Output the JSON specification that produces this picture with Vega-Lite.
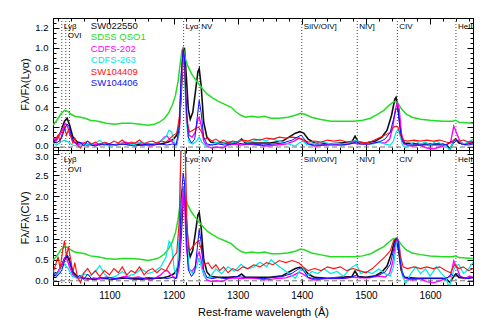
{
"$schema":"https://vega.github.io/schema/vega-lite/v6.json",
"padding":{"left":19,"top":17,"right":16,"bottom":5},
"config":{"view":{"stroke":"#000","strokeWidth":1},"axis":{"labelFont":"Liberation Sans","titleFont":"Liberation Sans","labelColor":"#000","titleColor":"#000","tickColor":"#000","domainColor":"#000","grid":false}},
"datasets":{
"lines":[{"w":1025.7,"t":"Lyβ","r":1},{"w":1031.9,"t":"OVI","r":2},{"w":1037.6,"t":"","r":0},{"w":1215.7,"t":"Lyα","r":1},{"w":1240.1,"t":"NV","r":1},{"w":1400,"t":"SiIV/OIV]","r":1},{"w":1486.5,"t":"NIV]","r":1},{"w":1549,"t":"CIV","r":1},{"w":1640.4,"t":"HeII","r":1}],
"spec":[
{"s":"SW022550","w":1012,"a":0.05,"b":0.10},{"s":"SW022550","w":1018,"a":0.08,"b":0.16},{"s":"SW022550","w":1024,"a":0.15,"b":0.31},{"s":"SW022550","w":1030,"a":0.26,"b":0.53},{"s":"SW022550","w":1034,"a":0.29,"b":0.59},{"s":"SW022550","w":1038,"a":0.22,"b":0.45},{"s":"SW022550","w":1043,"a":0.10,"b":0.21},{"s":"SW022550","w":1050,"a":0.05,"b":0.10},{"s":"SW022550","w":1060,"a":0.03,"b":0.06},{"s":"SW022550","w":1075,"a":0.02,"b":0.04},{"s":"SW022550","w":1090,"a":0.03,"b":0.06},{"s":"SW022550","w":1105,"a":0.02,"b":0.04},{"s":"SW022550","w":1120,"a":0.03,"b":0.06},{"s":"SW022550","w":1135,"a":0.03,"b":0.06},{"s":"SW022550","w":1150,"a":0.02,"b":0.04},{"s":"SW022550","w":1165,"a":0.03,"b":0.06},{"s":"SW022550","w":1180,"a":0.03,"b":0.06},{"s":"SW022550","w":1192,"a":0.05,"b":0.10},{"s":"SW022550","w":1200,"a":0.08,"b":0.16},{"s":"SW022550","w":1205,"a":0.12,"b":0.25},{"s":"SW022550","w":1209,"a":0.22,"b":0.45},{"s":"SW022550","w":1212,"a":0.55,"b":1.13},{"s":"SW022550","w":1215,"a":0.95,"b":1.95},{"s":"SW022550","w":1217,"a":1.0,"b":2.05},{"s":"SW022550","w":1220,"a":0.7,"b":1.44},{"s":"SW022550","w":1223,"a":0.38,"b":0.78},{"s":"SW022550","w":1226,"a":0.28,"b":0.57},{"s":"SW022550","w":1230,"a":0.35,"b":0.72},{"s":"SW022550","w":1234,"a":0.55,"b":1.13},{"s":"SW022550","w":1238,"a":0.76,"b":1.56},{"s":"SW022550","w":1240,"a":0.79,"b":1.62},{"s":"SW022550","w":1243,"a":0.62,"b":1.27},{"s":"SW022550","w":1247,"a":0.25,"b":0.51},{"s":"SW022550","w":1252,"a":0.1,"b":0.21},{"s":"SW022550","w":1258,"a":0.05,"b":0.10},{"s":"SW022550","w":1270,"a":0.04,"b":0.08},{"s":"SW022550","w":1285,"a":0.04,"b":0.08},{"s":"SW022550","w":1300,"a":0.05,"b":0.10},{"s":"SW022550","w":1306,"a":0.08,"b":0.16},{"s":"SW022550","w":1312,"a":0.04,"b":0.08},{"s":"SW022550","w":1330,"a":0.04,"b":0.08},{"s":"SW022550","w":1350,"a":0.04,"b":0.08},{"s":"SW022550","w":1370,"a":0.06,"b":0.12},{"s":"SW022550","w":1380,"a":0.1,"b":0.21},{"s":"SW022550","w":1390,"a":0.14,"b":0.29},{"s":"SW022550","w":1397,"a":0.155,"b":0.32},{"s":"SW022550","w":1403,"a":0.14,"b":0.29},{"s":"SW022550","w":1410,"a":0.08,"b":0.16},{"s":"SW022550","w":1420,"a":0.04,"b":0.08},{"s":"SW022550","w":1440,"a":0.03,"b":0.06},{"s":"SW022550","w":1460,"a":0.04,"b":0.08},{"s":"SW022550","w":1478,"a":0.05,"b":0.10},{"s":"SW022550","w":1483,"a":0.11,"b":0.23},{"s":"SW022550","w":1488,"a":0.05,"b":0.10},{"s":"SW022550","w":1500,"a":0.04,"b":0.08},{"s":"SW022550","w":1515,"a":0.06,"b":0.12},{"s":"SW022550","w":1525,"a":0.1,"b":0.21},{"s":"SW022550","w":1533,"a":0.17,"b":0.35},{"s":"SW022550","w":1540,"a":0.32,"b":0.66},{"s":"SW022550","w":1545,"a":0.48,"b":0.98},{"s":"SW022550","w":1547,"a":0.5,"b":1.0},{"s":"SW022550","w":1551,"a":0.35,"b":0.72},{"s":"SW022550","w":1555,"a":0.12,"b":0.25},{"s":"SW022550","w":1560,"a":0.04,"b":0.08},{"s":"SW022550","w":1580,"a":0.03,"b":0.06},{"s":"SW022550","w":1600,"a":0.03,"b":0.06},{"s":"SW022550","w":1620,"a":0.03,"b":0.06},{"s":"SW022550","w":1627,"a":0.01,"b":0.02},{"s":"SW022550","w":1631,"a":-0.02,"b":-0.04},{"s":"SW022550","w":1635,"a":0.03,"b":0.06},{"s":"SW022550","w":1640,"a":0.08,"b":0.16},{"s":"SW022550","w":1645,"a":0.04,"b":0.08},{"s":"SW022550","w":1655,"a":0.03,"b":0.06},{"s":"SW022550","w":1667,"a":0.04,"b":0.08},
{"s":"SDSS QSO1","w":1012,"a":0.22,"b":0.48},{"s":"SDSS QSO1","w":1018,"a":0.27,"b":0.59},{"s":"SDSS QSO1","w":1024,"a":0.33,"b":0.73},{"s":"SDSS QSO1","w":1030,"a":0.37,"b":0.81},{"s":"SDSS QSO1","w":1035,"a":0.36,"b":0.79},{"s":"SDSS QSO1","w":1040,"a":0.33,"b":0.73},{"s":"SDSS QSO1","w":1046,"a":0.31,"b":0.68},{"s":"SDSS QSO1","w":1055,"a":0.30,"b":0.66},{"s":"SDSS QSO1","w":1062,"a":0.29,"b":0.64},{"s":"SDSS QSO1","w":1070,"a":0.27,"b":0.59},{"s":"SDSS QSO1","w":1082,"a":0.26,"b":0.57},{"s":"SDSS QSO1","w":1095,"a":0.24,"b":0.53},{"s":"SDSS QSO1","w":1108,"a":0.23,"b":0.51},{"s":"SDSS QSO1","w":1120,"a":0.24,"b":0.53},{"s":"SDSS QSO1","w":1134,"a":0.24,"b":0.53},{"s":"SDSS QSO1","w":1148,"a":0.23,"b":0.51},{"s":"SDSS QSO1","w":1160,"a":0.22,"b":0.48},{"s":"SDSS QSO1","w":1170,"a":0.23,"b":0.51},{"s":"SDSS QSO1","w":1178,"a":0.25,"b":0.55},{"s":"SDSS QSO1","w":1186,"a":0.29,"b":0.64},{"s":"SDSS QSO1","w":1192,"a":0.34,"b":0.75},{"s":"SDSS QSO1","w":1198,"a":0.42,"b":0.92},{"s":"SDSS QSO1","w":1203,"a":0.52,"b":1.14},{"s":"SDSS QSO1","w":1207,"a":0.66,"b":1.45},{"s":"SDSS QSO1","w":1210,"a":0.82,"b":1.80},{"s":"SDSS QSO1","w":1213,"a":0.97,"b":2.13},{"s":"SDSS QSO1","w":1215,"a":1.0,"b":2.20},{"s":"SDSS QSO1","w":1218,"a":0.9,"b":1.98},{"s":"SDSS QSO1","w":1222,"a":0.82,"b":1.80},{"s":"SDSS QSO1","w":1228,"a":0.74,"b":1.63},{"s":"SDSS QSO1","w":1233,"a":0.69,"b":1.52},{"s":"SDSS QSO1","w":1240,"a":0.63,"b":1.39},{"s":"SDSS QSO1","w":1246,"a":0.58,"b":1.28},{"s":"SDSS QSO1","w":1253,"a":0.53,"b":1.17},{"s":"SDSS QSO1","w":1262,"a":0.49,"b":1.08},{"s":"SDSS QSO1","w":1270,"a":0.46,"b":1.01},{"s":"SDSS QSO1","w":1280,"a":0.43,"b":0.95},{"s":"SDSS QSO1","w":1290,"a":0.40,"b":0.88},{"s":"SDSS QSO1","w":1298,"a":0.35,"b":0.77},{"s":"SDSS QSO1","w":1305,"a":0.32,"b":0.70},{"s":"SDSS QSO1","w":1312,"a":0.30,"b":0.66},{"s":"SDSS QSO1","w":1322,"a":0.31,"b":0.68},{"s":"SDSS QSO1","w":1332,"a":0.30,"b":0.66},{"s":"SDSS QSO1","w":1342,"a":0.31,"b":0.68},{"s":"SDSS QSO1","w":1352,"a":0.29,"b":0.64},{"s":"SDSS QSO1","w":1365,"a":0.29,"b":0.64},{"s":"SDSS QSO1","w":1378,"a":0.30,"b":0.66},{"s":"SDSS QSO1","w":1390,"a":0.32,"b":0.70},{"s":"SDSS QSO1","w":1398,"a":0.34,"b":0.75},{"s":"SDSS QSO1","w":1405,"a":0.33,"b":0.73},{"s":"SDSS QSO1","w":1415,"a":0.30,"b":0.66},{"s":"SDSS QSO1","w":1428,"a":0.28,"b":0.62},{"s":"SDSS QSO1","w":1445,"a":0.26,"b":0.57},{"s":"SDSS QSO1","w":1465,"a":0.26,"b":0.57},{"s":"SDSS QSO1","w":1482,"a":0.26,"b":0.57},{"s":"SDSS QSO1","w":1495,"a":0.27,"b":0.59},{"s":"SDSS QSO1","w":1507,"a":0.29,"b":0.64},{"s":"SDSS QSO1","w":1518,"a":0.33,"b":0.73},{"s":"SDSS QSO1","w":1528,"a":0.37,"b":0.81},{"s":"SDSS QSO1","w":1536,"a":0.42,"b":0.92},{"s":"SDSS QSO1","w":1542,"a":0.45,"b":0.99},{"s":"SDSS QSO1","w":1546,"a":0.46,"b":1.0},{"s":"SDSS QSO1","w":1550,"a":0.44,"b":0.97},{"s":"SDSS QSO1","w":1556,"a":0.38,"b":0.84},{"s":"SDSS QSO1","w":1563,"a":0.33,"b":0.73},{"s":"SDSS QSO1","w":1572,"a":0.30,"b":0.66},{"s":"SDSS QSO1","w":1585,"a":0.28,"b":0.62},{"s":"SDSS QSO1","w":1600,"a":0.27,"b":0.59},{"s":"SDSS QSO1","w":1620,"a":0.26,"b":0.57},{"s":"SDSS QSO1","w":1635,"a":0.26,"b":0.57},{"s":"SDSS QSO1","w":1640,"a":0.27,"b":0.59},{"s":"SDSS QSO1","w":1645,"a":0.25,"b":0.55},{"s":"SDSS QSO1","w":1667,"a":0.24,"b":0.53},
{"s":"CDFS-202","w":1012,"a":0.10,"b":0.23},{"s":"CDFS-202","w":1017,"a":0.06,"b":0.14},{"s":"CDFS-202","w":1022,"a":0.12,"b":0.27},{"s":"CDFS-202","w":1027,"a":0.18,"b":0.41},{"s":"CDFS-202","w":1031,"a":0.24,"b":0.54},{"s":"CDFS-202","w":1034,"a":0.22,"b":0.50},{"s":"CDFS-202","w":1038,"a":0.14,"b":0.32},{"s":"CDFS-202","w":1043,"a":0.06,"b":0.14},{"s":"CDFS-202","w":1050,"a":0.02,"b":0.05},{"s":"CDFS-202","w":1058,"a":0.04,"b":0.09},{"s":"CDFS-202","w":1066,"a":0.01,"b":0.02},{"s":"CDFS-202","w":1075,"a":0.03,"b":0.07},{"s":"CDFS-202","w":1085,"a":0.02,"b":0.05},{"s":"CDFS-202","w":1095,"a":0.04,"b":0.09},{"s":"CDFS-202","w":1105,"a":0.02,"b":0.05},{"s":"CDFS-202","w":1115,"a":0.03,"b":0.07},{"s":"CDFS-202","w":1125,"a":0.05,"b":0.11},{"s":"CDFS-202","w":1135,"a":0.03,"b":0.07},{"s":"CDFS-202","w":1145,"a":0.04,"b":0.09},{"s":"CDFS-202","w":1155,"a":0.02,"b":0.05},{"s":"CDFS-202","w":1165,"a":0.01,"b":0.02},{"s":"CDFS-202","w":1172,"a":0.03,"b":0.07},{"s":"CDFS-202","w":1180,"a":0.06,"b":0.14},{"s":"CDFS-202","w":1186,"a":0.10,"b":0.23},{"s":"CDFS-202","w":1190,"a":0.11,"b":0.25},{"s":"CDFS-202","w":1195,"a":0.07,"b":0.16},{"s":"CDFS-202","w":1200,"a":0.04,"b":0.09},{"s":"CDFS-202","w":1205,"a":0.03,"b":0.07},{"s":"CDFS-202","w":1209,"a":0.15,"b":0.34},{"s":"CDFS-202","w":1212,"a":0.6,"b":1.35},{"s":"CDFS-202","w":1215,"a":0.98,"b":2.21},{"s":"CDFS-202","w":1217,"a":0.85,"b":1.91},{"s":"CDFS-202","w":1220,"a":0.35,"b":0.79},{"s":"CDFS-202","w":1224,"a":0.12,"b":0.27},{"s":"CDFS-202","w":1229,"a":0.10,"b":0.23},{"s":"CDFS-202","w":1234,"a":0.15,"b":0.34},{"s":"CDFS-202","w":1238,"a":0.28,"b":0.63},{"s":"CDFS-202","w":1240,"a":0.30,"b":0.68},{"s":"CDFS-202","w":1243,"a":0.22,"b":0.50},{"s":"CDFS-202","w":1247,"a":0.06,"b":0.14},{"s":"CDFS-202","w":1252,"a":0.01,"b":0.02},{"s":"CDFS-202","w":1260,"a":-0.01,"b":-0.02},{"s":"CDFS-202","w":1268,"a":0.0,"b":0.0},{"s":"CDFS-202","w":1276,"a":-0.01,"b":-0.02},{"s":"CDFS-202","w":1285,"a":0.02,"b":0.05},{"s":"CDFS-202","w":1295,"a":0.03,"b":0.07},{"s":"CDFS-202","w":1305,"a":0.02,"b":0.05},{"s":"CDFS-202","w":1318,"a":0.03,"b":0.07},{"s":"CDFS-202","w":1330,"a":0.02,"b":0.05},{"s":"CDFS-202","w":1345,"a":0.01,"b":0.02},{"s":"CDFS-202","w":1360,"a":0.02,"b":0.05},{"s":"CDFS-202","w":1375,"a":0.03,"b":0.07},{"s":"CDFS-202","w":1388,"a":0.06,"b":0.14},{"s":"CDFS-202","w":1396,"a":0.09,"b":0.20},{"s":"CDFS-202","w":1402,"a":0.07,"b":0.16},{"s":"CDFS-202","w":1410,"a":0.03,"b":0.07},{"s":"CDFS-202","w":1420,"a":0.01,"b":0.02},{"s":"CDFS-202","w":1435,"a":0.02,"b":0.05},{"s":"CDFS-202","w":1450,"a":0.03,"b":0.07},{"s":"CDFS-202","w":1465,"a":0.02,"b":0.05},{"s":"CDFS-202","w":1480,"a":0.04,"b":0.09},{"s":"CDFS-202","w":1490,"a":0.03,"b":0.07},{"s":"CDFS-202","w":1505,"a":0.03,"b":0.07},{"s":"CDFS-202","w":1520,"a":0.05,"b":0.11},{"s":"CDFS-202","w":1530,"a":0.04,"b":0.09},{"s":"CDFS-202","w":1537,"a":0.08,"b":0.18},{"s":"CDFS-202","w":1542,"a":0.2,"b":0.45},{"s":"CDFS-202","w":1546,"a":0.38,"b":0.86},{"s":"CDFS-202","w":1549,"a":0.45,"b":1.01},{"s":"CDFS-202","w":1552,"a":0.38,"b":0.86},{"s":"CDFS-202","w":1555,"a":0.15,"b":0.34},{"s":"CDFS-202","w":1559,"a":0.03,"b":0.07},{"s":"CDFS-202","w":1570,"a":0.01,"b":0.02},{"s":"CDFS-202","w":1585,"a":0.02,"b":0.05},{"s":"CDFS-202","w":1595,"a":-0.01,"b":-0.02},{"s":"CDFS-202","w":1605,"a":-0.02,"b":-0.05},{"s":"CDFS-202","w":1615,"a":0.0,"b":0.0},{"s":"CDFS-202","w":1625,"a":0.02,"b":0.05},{"s":"CDFS-202","w":1632,"a":0.05,"b":0.11},{"s":"CDFS-202","w":1637,"a":0.21,"b":0.47},{"s":"CDFS-202","w":1641,"a":0.15,"b":0.34},{"s":"CDFS-202","w":1647,"a":0.05,"b":0.11},{"s":"CDFS-202","w":1655,"a":0.02,"b":0.05},{"s":"CDFS-202","w":1662,"a":0.05,"b":0.11},{"s":"CDFS-202","w":1667,"a":0.03,"b":0.07},
{"s":"CDFS-263","w":1012,"a":0.04,"b":0.22},{"s":"CDFS-263","w":1018,"a":0.02,"b":0.11},{"s":"CDFS-263","w":1024,"a":0.05,"b":0.28},{"s":"CDFS-263","w":1030,"a":0.07,"b":0.39},{"s":"CDFS-263","w":1036,"a":0.05,"b":0.28},{"s":"CDFS-263","w":1042,"a":0.02,"b":0.11},{"s":"CDFS-263","w":1050,"a":0.01,"b":0.06},{"s":"CDFS-263","w":1060,"a":0.03,"b":0.17},{"s":"CDFS-263","w":1070,"a":0.02,"b":0.11},{"s":"CDFS-263","w":1078,"a":0.04,"b":0.22},{"s":"CDFS-263","w":1085,"a":0.065,"b":0.36},{"s":"CDFS-263","w":1092,"a":0.03,"b":0.17},{"s":"CDFS-263","w":1100,"a":0.01,"b":0.06},{"s":"CDFS-263","w":1110,"a":0.02,"b":0.11},{"s":"CDFS-263","w":1120,"a":0.04,"b":0.22},{"s":"CDFS-263","w":1130,"a":0.02,"b":0.11},{"s":"CDFS-263","w":1140,"a":0.03,"b":0.17},{"s":"CDFS-263","w":1150,"a":0.05,"b":0.28},{"s":"CDFS-263","w":1160,"a":0.03,"b":0.17},{"s":"CDFS-263","w":1170,"a":0.04,"b":0.22},{"s":"CDFS-263","w":1180,"a":0.06,"b":0.33},{"s":"CDFS-263","w":1188,"a":0.10,"b":0.55},{"s":"CDFS-263","w":1193,"a":0.17,"b":0.94},{"s":"CDFS-263","w":1197,"a":0.15,"b":0.83},{"s":"CDFS-263","w":1201,"a":0.05,"b":0.28},{"s":"CDFS-263","w":1205,"a":0.02,"b":0.11},{"s":"CDFS-263","w":1209,"a":0.2,"b":1.10},{"s":"CDFS-263","w":1212,"a":0.7,"b":3.85},{"s":"CDFS-263","w":1215,"a":1.0,"b":5.5},{"s":"CDFS-263","w":1217,"a":0.8,"b":4.4},{"s":"CDFS-263","w":1220,"a":0.25,"b":1.38},{"s":"CDFS-263","w":1224,"a":0.05,"b":0.28},{"s":"CDFS-263","w":1230,"a":0.03,"b":0.17},{"s":"CDFS-263","w":1236,"a":0.06,"b":0.33},{"s":"CDFS-263","w":1240,"a":0.10,"b":0.55},{"s":"CDFS-263","w":1244,"a":0.05,"b":0.28},{"s":"CDFS-263","w":1250,"a":0.01,"b":0.06},{"s":"CDFS-263","w":1258,"a":0.02,"b":0.11},{"s":"CDFS-263","w":1266,"a":0.05,"b":0.28},{"s":"CDFS-263","w":1275,"a":0.03,"b":0.17},{"s":"CDFS-263","w":1285,"a":0.06,"b":0.33},{"s":"CDFS-263","w":1295,"a":0.04,"b":0.22},{"s":"CDFS-263","w":1305,"a":0.07,"b":0.39},{"s":"CDFS-263","w":1315,"a":0.05,"b":0.28},{"s":"CDFS-263","w":1325,"a":0.06,"b":0.33},{"s":"CDFS-263","w":1335,"a":0.08,"b":0.44},{"s":"CDFS-263","w":1345,"a":0.06,"b":0.33},{"s":"CDFS-263","w":1352,"a":0.09,"b":0.50},{"s":"CDFS-263","w":1360,"a":0.07,"b":0.39},{"s":"CDFS-263","w":1370,"a":0.05,"b":0.28},{"s":"CDFS-263","w":1380,"a":0.03,"b":0.17},{"s":"CDFS-263","w":1390,"a":0.01,"b":0.06},{"s":"CDFS-263","w":1396,"a":0.04,"b":0.22},{"s":"CDFS-263","w":1402,"a":0.06,"b":0.33},{"s":"CDFS-263","w":1408,"a":0.02,"b":0.11},{"s":"CDFS-263","w":1416,"a":0.04,"b":0.22},{"s":"CDFS-263","w":1425,"a":0.03,"b":0.17},{"s":"CDFS-263","w":1435,"a":0.05,"b":0.28},{"s":"CDFS-263","w":1445,"a":0.03,"b":0.17},{"s":"CDFS-263","w":1455,"a":0.04,"b":0.22},{"s":"CDFS-263","w":1465,"a":0.02,"b":0.11},{"s":"CDFS-263","w":1475,"a":0.05,"b":0.28},{"s":"CDFS-263","w":1485,"a":0.07,"b":0.39},{"s":"CDFS-263","w":1492,"a":0.03,"b":0.17},{"s":"CDFS-263","w":1500,"a":0.04,"b":0.22},{"s":"CDFS-263","w":1510,"a":0.03,"b":0.17},{"s":"CDFS-263","w":1520,"a":0.05,"b":0.28},{"s":"CDFS-263","w":1530,"a":0.03,"b":0.17},{"s":"CDFS-263","w":1538,"a":0.02,"b":0.11},{"s":"CDFS-263","w":1543,"a":0.06,"b":0.33},{"s":"CDFS-263","w":1547,"a":0.15,"b":0.83},{"s":"CDFS-263","w":1550,"a":0.18,"b":0.99},{"s":"CDFS-263","w":1553,"a":0.12,"b":0.66},{"s":"CDFS-263","w":1557,"a":0.02,"b":0.11},{"s":"CDFS-263","w":1562,"a":-0.01,"b":-0.06},{"s":"CDFS-263","w":1570,"a":0.03,"b":0.17},{"s":"CDFS-263","w":1578,"a":0.06,"b":0.33},{"s":"CDFS-263","w":1585,"a":0.03,"b":0.17},{"s":"CDFS-263","w":1593,"a":0.05,"b":0.28},{"s":"CDFS-263","w":1600,"a":0.02,"b":0.11},{"s":"CDFS-263","w":1610,"a":0.06,"b":0.33},{"s":"CDFS-263","w":1618,"a":0.03,"b":0.17},{"s":"CDFS-263","w":1625,"a":0.01,"b":0.06},{"s":"CDFS-263","w":1630,"a":-0.03,"b":-0.17},{"s":"CDFS-263","w":1634,"a":0.02,"b":0.11},{"s":"CDFS-263","w":1639,"a":0.06,"b":0.33},{"s":"CDFS-263","w":1645,"a":0.07,"b":0.39},{"s":"CDFS-263","w":1652,"a":0.03,"b":0.17},{"s":"CDFS-263","w":1660,"a":0.05,"b":0.28},{"s":"CDFS-263","w":1667,"a":0.08,"b":0.44},
{"s":"SW104409","w":1012,"a":0.04,"b":0.19},{"s":"SW104409","w":1016,"a":0.08,"b":0.38},{"s":"SW104409","w":1020,"a":0.12,"b":0.57},{"s":"SW104409","w":1023,"a":0.06,"b":0.29},{"s":"SW104409","w":1027,"a":0.15,"b":0.71},{"s":"SW104409","w":1030,"a":0.20,"b":0.95},{"s":"SW104409","w":1033,"a":0.12,"b":0.57},{"s":"SW104409","w":1036,"a":0.17,"b":0.81},{"s":"SW104409","w":1040,"a":0.10,"b":0.48},{"s":"SW104409","w":1043,"a":0.04,"b":0.19},{"s":"SW104409","w":1046,"a":0.09,"b":0.43},{"s":"SW104409","w":1050,"a":0.02,"b":0.10},{"s":"SW104409","w":1055,"a":-0.01,"b":-0.05},{"s":"SW104409","w":1060,"a":0.04,"b":0.19},{"s":"SW104409","w":1066,"a":0.06,"b":0.29},{"s":"SW104409","w":1072,"a":0.03,"b":0.14},{"s":"SW104409","w":1078,"a":0.05,"b":0.24},{"s":"SW104409","w":1085,"a":0.02,"b":0.10},{"s":"SW104409","w":1092,"a":0.05,"b":0.24},{"s":"SW104409","w":1100,"a":0.03,"b":0.14},{"s":"SW104409","w":1107,"a":0.06,"b":0.29},{"s":"SW104409","w":1114,"a":0.04,"b":0.19},{"s":"SW104409","w":1120,"a":0.07,"b":0.33},{"s":"SW104409","w":1127,"a":0.03,"b":0.14},{"s":"SW104409","w":1134,"a":0.05,"b":0.24},{"s":"SW104409","w":1140,"a":0.04,"b":0.19},{"s":"SW104409","w":1147,"a":0.07,"b":0.33},{"s":"SW104409","w":1154,"a":0.03,"b":0.14},{"s":"SW104409","w":1160,"a":0.05,"b":0.24},{"s":"SW104409","w":1167,"a":0.06,"b":0.29},{"s":"SW104409","w":1174,"a":0.04,"b":0.19},{"s":"SW104409","w":1181,"a":0.06,"b":0.29},{"s":"SW104409","w":1188,"a":0.05,"b":0.24},{"s":"SW104409","w":1195,"a":0.09,"b":0.43},{"s":"SW104409","w":1200,"a":0.12,"b":0.57},{"s":"SW104409","w":1205,"a":0.14,"b":0.67},{"s":"SW104409","w":1209,"a":0.3,"b":1.43},{"s":"SW104409","w":1212,"a":0.7,"b":3.33},{"s":"SW104409","w":1215,"a":1.0,"b":4.75},{"s":"SW104409","w":1218,"a":0.7,"b":3.33},{"s":"SW104409","w":1221,"a":0.25,"b":1.19},{"s":"SW104409","w":1225,"a":0.15,"b":0.71},{"s":"SW104409","w":1230,"a":0.17,"b":0.81},{"s":"SW104409","w":1235,"a":0.19,"b":0.90},{"s":"SW104409","w":1239,"a":0.20,"b":0.95},{"s":"SW104409","w":1243,"a":0.16,"b":0.76},{"s":"SW104409","w":1248,"a":0.08,"b":0.38},{"s":"SW104409","w":1254,"a":0.09,"b":0.43},{"s":"SW104409","w":1260,"a":0.06,"b":0.29},{"s":"SW104409","w":1266,"a":0.08,"b":0.38},{"s":"SW104409","w":1272,"a":0.05,"b":0.24},{"s":"SW104409","w":1278,"a":0.07,"b":0.33},{"s":"SW104409","w":1285,"a":0.04,"b":0.19},{"s":"SW104409","w":1292,"a":0.06,"b":0.29},{"s":"SW104409","w":1300,"a":0.05,"b":0.24},{"s":"SW104409","w":1308,"a":0.07,"b":0.33},{"s":"SW104409","w":1316,"a":0.06,"b":0.29},{"s":"SW104409","w":1325,"a":0.08,"b":0.38},{"s":"SW104409","w":1335,"a":0.07,"b":0.33},{"s":"SW104409","w":1345,"a":0.09,"b":0.43},{"s":"SW104409","w":1355,"a":0.08,"b":0.38},{"s":"SW104409","w":1365,"a":0.10,"b":0.48},{"s":"SW104409","w":1375,"a":0.09,"b":0.43},{"s":"SW104409","w":1385,"a":0.10,"b":0.48},{"s":"SW104409","w":1395,"a":0.09,"b":0.43},{"s":"SW104409","w":1402,"a":0.07,"b":0.33},{"s":"SW104409","w":1410,"a":0.05,"b":0.24},{"s":"SW104409","w":1420,"a":0.06,"b":0.29},{"s":"SW104409","w":1430,"a":0.05,"b":0.24},{"s":"SW104409","w":1440,"a":0.07,"b":0.33},{"s":"SW104409","w":1450,"a":0.06,"b":0.29},{"s":"SW104409","w":1460,"a":0.07,"b":0.33},{"s":"SW104409","w":1470,"a":0.05,"b":0.24},{"s":"SW104409","w":1480,"a":0.06,"b":0.29},{"s":"SW104409","w":1490,"a":0.05,"b":0.24},{"s":"SW104409","w":1500,"a":0.04,"b":0.19},{"s":"SW104409","w":1510,"a":0.06,"b":0.29},{"s":"SW104409","w":1520,"a":0.09,"b":0.43},{"s":"SW104409","w":1530,"a":0.12,"b":0.57},{"s":"SW104409","w":1538,"a":0.15,"b":0.71},{"s":"SW104409","w":1543,"a":0.20,"b":0.95},{"s":"SW104409","w":1547,"a":0.21,"b":1.0},{"s":"SW104409","w":1550,"a":0.20,"b":0.95},{"s":"SW104409","w":1554,"a":0.12,"b":0.57},{"s":"SW104409","w":1558,"a":0.07,"b":0.33},{"s":"SW104409","w":1565,"a":0.06,"b":0.29},{"s":"SW104409","w":1575,"a":0.07,"b":0.33},{"s":"SW104409","w":1585,"a":0.06,"b":0.29},{"s":"SW104409","w":1595,"a":0.07,"b":0.33},{"s":"SW104409","w":1605,"a":0.06,"b":0.29},{"s":"SW104409","w":1615,"a":0.07,"b":0.33},{"s":"SW104409","w":1625,"a":0.05,"b":0.24},{"s":"SW104409","w":1632,"a":0.04,"b":0.19},{"s":"SW104409","w":1638,"a":0.08,"b":0.38},{"s":"SW104409","w":1645,"a":0.06,"b":0.29},{"s":"SW104409","w":1652,"a":0.07,"b":0.33},{"s":"SW104409","w":1660,"a":0.05,"b":0.24},{"s":"SW104409","w":1667,"a":0.06,"b":0.29},
{"s":"SW104406","w":1012,"a":0.08,"b":0.21},{"s":"SW104406","w":1017,"a":0.04,"b":0.10},{"s":"SW104406","w":1022,"a":0.06,"b":0.16},{"s":"SW104406","w":1026,"a":0.10,"b":0.26},{"s":"SW104406","w":1030,"a":0.18,"b":0.47},{"s":"SW104406","w":1034,"a":0.23,"b":0.60},{"s":"SW104406","w":1037,"a":0.21,"b":0.55},{"s":"SW104406","w":1040,"a":0.13,"b":0.34},{"s":"SW104406","w":1044,"a":0.06,"b":0.16},{"s":"SW104406","w":1049,"a":0.03,"b":0.08},{"s":"SW104406","w":1054,"a":0.05,"b":0.13},{"s":"SW104406","w":1060,"a":0.01,"b":0.03},{"s":"SW104406","w":1066,"a":0.06,"b":0.16},{"s":"SW104406","w":1072,"a":0.02,"b":0.05},{"s":"SW104406","w":1078,"a":0.01,"b":0.03},{"s":"SW104406","w":1085,"a":0.03,"b":0.08},{"s":"SW104406","w":1092,"a":0.02,"b":0.05},{"s":"SW104406","w":1100,"a":0.03,"b":0.08},{"s":"SW104406","w":1110,"a":0.02,"b":0.05},{"s":"SW104406","w":1120,"a":0.03,"b":0.08},{"s":"SW104406","w":1130,"a":0.02,"b":0.05},{"s":"SW104406","w":1140,"a":0.01,"b":0.03},{"s":"SW104406","w":1150,"a":0.02,"b":0.05},{"s":"SW104406","w":1160,"a":0.03,"b":0.08},{"s":"SW104406","w":1170,"a":0.02,"b":0.05},{"s":"SW104406","w":1180,"a":0.03,"b":0.08},{"s":"SW104406","w":1190,"a":0.02,"b":0.05},{"s":"SW104406","w":1198,"a":0.03,"b":0.08},{"s":"SW104406","w":1204,"a":0.02,"b":0.05},{"s":"SW104406","w":1209,"a":0.2,"b":0.52},{"s":"SW104406","w":1212,"a":0.75,"b":1.95},{"s":"SW104406","w":1215,"a":0.98,"b":2.55},{"s":"SW104406","w":1217,"a":0.9,"b":2.34},{"s":"SW104406","w":1220,"a":0.4,"b":1.04},{"s":"SW104406","w":1223,"a":0.1,"b":0.26},{"s":"SW104406","w":1228,"a":0.04,"b":0.10},{"s":"SW104406","w":1233,"a":0.08,"b":0.21},{"s":"SW104406","w":1237,"a":0.3,"b":0.78},{"s":"SW104406","w":1240,"a":0.47,"b":1.22},{"s":"SW104406","w":1243,"a":0.35,"b":0.91},{"s":"SW104406","w":1247,"a":0.1,"b":0.26},{"s":"SW104406","w":1252,"a":0.03,"b":0.08},{"s":"SW104406","w":1260,"a":0.02,"b":0.05},{"s":"SW104406","w":1270,"a":0.03,"b":0.08},{"s":"SW104406","w":1280,"a":0.02,"b":0.05},{"s":"SW104406","w":1290,"a":0.03,"b":0.08},{"s":"SW104406","w":1300,"a":0.04,"b":0.10},{"s":"SW104406","w":1310,"a":0.03,"b":0.08},{"s":"SW104406","w":1325,"a":0.03,"b":0.08},{"s":"SW104406","w":1340,"a":0.02,"b":0.05},{"s":"SW104406","w":1355,"a":0.03,"b":0.08},{"s":"SW104406","w":1370,"a":0.04,"b":0.10},{"s":"SW104406","w":1385,"a":0.07,"b":0.18},{"s":"SW104406","w":1393,"a":0.10,"b":0.26},{"s":"SW104406","w":1399,"a":0.12,"b":0.31},{"s":"SW104406","w":1404,"a":0.08,"b":0.21},{"s":"SW104406","w":1410,"a":0.03,"b":0.08},{"s":"SW104406","w":1420,"a":0.02,"b":0.05},{"s":"SW104406","w":1440,"a":0.02,"b":0.05},{"s":"SW104406","w":1460,"a":0.02,"b":0.05},{"s":"SW104406","w":1475,"a":0.03,"b":0.08},{"s":"SW104406","w":1485,"a":0.05,"b":0.13},{"s":"SW104406","w":1492,"a":0.03,"b":0.08},{"s":"SW104406","w":1505,"a":0.03,"b":0.08},{"s":"SW104406","w":1520,"a":0.05,"b":0.13},{"s":"SW104406","w":1530,"a":0.08,"b":0.21},{"s":"SW104406","w":1538,"a":0.15,"b":0.39},{"s":"SW104406","w":1543,"a":0.28,"b":0.73},{"s":"SW104406","w":1547,"a":0.385,"b":1.0},{"s":"SW104406","w":1550,"a":0.37,"b":0.96},{"s":"SW104406","w":1553,"a":0.2,"b":0.52},{"s":"SW104406","w":1557,"a":0.05,"b":0.13},{"s":"SW104406","w":1565,"a":0.02,"b":0.05},{"s":"SW104406","w":1580,"a":0.02,"b":0.05},{"s":"SW104406","w":1600,"a":0.02,"b":0.05},{"s":"SW104406","w":1620,"a":0.02,"b":0.05},{"s":"SW104406","w":1628,"a":0.03,"b":0.08},{"s":"SW104406","w":1633,"a":0.06,"b":0.16},{"s":"SW104406","w":1637,"a":0.04,"b":0.10},{"s":"SW104406","w":1642,"a":0.07,"b":0.18},{"s":"SW104406","w":1648,"a":0.03,"b":0.08},{"s":"SW104406","w":1660,"a":0.02,"b":0.05},{"s":"SW104406","w":1667,"a":0.03,"b":0.08}
]},
"vconcat":[
{"width":420,"height":132,
"resolve":{"axis":{"x":"independent","y":"independent"}},
"layer":[
{"data":{"values":[{}]},"mark":{"type":"rule","strokeDash":[5,3],"color":"#777","strokeWidth":1},
"encoding":{"y":{"datum":0,"type":"quantitative","scale":{"domain":[-0.03,1.3],"nice":false,"zero":false},
"axis":{"orient":"left","values":[0,0.05,0.1,0.15,0.2,0.25,0.3,0.35,0.4,0.45,0.5,0.55,0.6,0.65,0.7,0.75,0.8,0.85,0.9,0.95,1.0,1.05,1.1,1.15,1.2,1.25],"labelExpr":"round(datum.value*100) % 20 == 0 ? format(datum.value, '.1f') : ''","labelFontSize":9.5,"labelPadding":11,"labelOffset":{"condition":{"test":"datum.value == 0","value":-2},"value":0},"labelOverlap":false,"labelFlush":false,"title":"Fλ/Fλ(Lyα)","titleFontSize":11,"titleFontWeight":"normal","titlePadding":4,"tickSize":{"condition":{"test":"round(datum.value*100) % 20 == 0","value":-6},"value":-3}}}}},
{"data":{"name":"lines"},"mark":{"type":"rule","strokeDash":[1,2],"color":"#444","strokeWidth":1},
"encoding":{"x":{"field":"w","type":"quantitative","scale":{"domain":[1012,1667],"nice":false,"zero":false},
"axis":{"orient":"bottom","values":[1020,1040,1060,1080,1100,1120,1140,1160,1180,1200,1220,1240,1260,1280,1300,1320,1340,1360,1380,1400,1420,1440,1460,1480,1500,1520,1540,1560,1580,1600,1620,1640,1660],"labels":false,"title":null,"tickSize":{"condition":{"test":"datum.value % 100 == 0","value":-6},"value":-3}}}}},
{"data":{"name":"spec"},"mark":{"type":"line","clip":true},
"encoding":{"x":{"field":"w","type":"quantitative","scale":{"domain":[1012,1667],"nice":false,"zero":false},
"axis":{"orient":"top","values":[1020,1040,1060,1080,1100,1120,1140,1160,1180,1200,1220,1240,1260,1280,1300,1320,1340,1360,1380,1400,1420,1440,1460,1480,1500,1520,1540,1560,1580,1600,1620,1640,1660],"labels":false,"title":null,"tickSize":{"condition":{"test":"datum.value % 100 == 0","value":-6},"value":-3}}},
"y":{"field":"a","type":"quantitative","scale":{"domain":[-0.03,1.3],"nice":false,"zero":false},
"axis":{"orient":"right","values":[0,0.05,0.1,0.15,0.2,0.25,0.3,0.35,0.4,0.45,0.5,0.55,0.6,0.65,0.7,0.75,0.8,0.85,0.9,0.95,1.0,1.05,1.1,1.15,1.2,1.25],"labels":false,"title":null,"tickSize":{"condition":{"test":"round(datum.value*100) % 20 == 0","value":-6},"value":-3}}},
"color":{"field":"s","type":"nominal","scale":{"domain":["SW022550","SDSS QSO1","CDFS-202","CDFS-263","SW104409","SW104406"],"range":["#111111","#22dd22","#ff00ff","#00e8e8","#ff1010","#1010ff"]},"legend":null},
"strokeWidth":{"field":"s","type":"nominal","scale":{"domain":["SW022550","SDSS QSO1","CDFS-202","CDFS-263","SW104409","SW104406"],"range":[1.6,1,1,1,1,1]},"legend":null}}},
{"data":{"name":"lines"},"transform":[{"filter":"datum.r == 1"}],"mark":{"type":"text","align":"left","baseline":"middle","dx":2,"font":"Liberation Sans","fontSize":8,"color":"#000"},
"encoding":{"x":{"field":"w","type":"quantitative","scale":{"domain":[1012,1667],"nice":false,"zero":false},"axis":null},"y":{"datum":1.21,"type":"quantitative","scale":{"domain":[-0.03,1.3],"nice":false,"zero":false},"axis":null},"text":{"field":"t"}}},
{"data":{"name":"lines"},"transform":[{"filter":"datum.r == 2"}],"mark":{"type":"text","align":"left","baseline":"middle","dx":2,"font":"Liberation Sans","fontSize":8,"color":"#000"},
"encoding":{"x":{"field":"w","type":"quantitative","scale":{"domain":[1012,1667],"nice":false,"zero":false},"axis":null},"y":{"datum":1.115,"type":"quantitative","scale":{"domain":[-0.03,1.3],"nice":false,"zero":false},"axis":null},"text":{"field":"t"}}},
{"data":{"values":[{}]},"mark":{"type":"text","align":"left","baseline":"middle","font":"Liberation Sans","fontSize":9.5,"color":"#111111"},"encoding":{"x":{"datum":1071,"type":"quantitative","axis":null},"y":{"datum":1.22,"type":"quantitative","axis":null},"text":{"value":"SW022550"}}},
{"data":{"values":[{}]},"mark":{"type":"text","align":"left","baseline":"middle","font":"Liberation Sans","fontSize":9.5,"color":"#22dd22"},"encoding":{"x":{"datum":1071,"type":"quantitative","axis":null},"y":{"datum":1.105,"type":"quantitative","axis":null},"text":{"value":"SDSS QSO1"}}},
{"data":{"values":[{}]},"mark":{"type":"text","align":"left","baseline":"middle","font":"Liberation Sans","fontSize":9.5,"color":"#ff00ff"},"encoding":{"x":{"datum":1071,"type":"quantitative","axis":null},"y":{"datum":0.99,"type":"quantitative","axis":null},"text":{"value":"CDFS-202"}}},
{"data":{"values":[{}]},"mark":{"type":"text","align":"left","baseline":"middle","font":"Liberation Sans","fontSize":9.5,"color":"#00e8e8"},"encoding":{"x":{"datum":1071,"type":"quantitative","axis":null},"y":{"datum":0.875,"type":"quantitative","axis":null},"text":{"value":"CDFS-263"}}},
{"data":{"values":[{}]},"mark":{"type":"text","align":"left","baseline":"middle","font":"Liberation Sans","fontSize":9.5,"color":"#ff1010"},"encoding":{"x":{"datum":1071,"type":"quantitative","axis":null},"y":{"datum":0.76,"type":"quantitative","axis":null},"text":{"value":"SW104409"}}},
{"data":{"values":[{}]},"mark":{"type":"text","align":"left","baseline":"middle","font":"Liberation Sans","fontSize":9.5,"color":"#1010ff"},"encoding":{"x":{"datum":1071,"type":"quantitative","axis":null},"y":{"datum":0.65,"type":"quantitative","axis":null},"text":{"value":"SW104406"}}}
]},
{"width":420,"height":135,
"resolve":{"axis":{"x":"independent","y":"independent"}},
"layer":[
{"data":{"values":[{}]},"mark":{"type":"rule","strokeDash":[5,3],"color":"#777","strokeWidth":1},
"encoding":{"y":{"datum":0,"type":"quantitative","scale":{"domain":[-0.1,3.1],"nice":false,"zero":false},
"axis":{"orient":"left","values":[0,0.1,0.2,0.3,0.4,0.5,0.6,0.7,0.8,0.9,1.0,1.1,1.2,1.3,1.4,1.5,1.6,1.7,1.8,1.9,2.0,2.1,2.2,2.3,2.4,2.5,2.6,2.7,2.8,2.9,3.0],"labelExpr":"round(datum.value*10) % 5 == 0 ? format(datum.value, '.1f') : ''","labelFontSize":9.5,"labelPadding":11,"labelOffset":{"condition":{"test":"datum.value == 3","value":2},"value":0},"labelOverlap":false,"labelFlush":false,"title":"Fλ/Fλ(CIV)","titleFontSize":11,"titleFontWeight":"normal","titlePadding":4,"tickSize":{"condition":{"test":"round(datum.value*10) % 5 == 0","value":-6},"value":-3}}}}},
{"data":{"name":"lines"},"mark":{"type":"rule","strokeDash":[1,2],"color":"#444","strokeWidth":1},
"encoding":{"x":{"field":"w","type":"quantitative","scale":{"domain":[1012,1667],"nice":false,"zero":false},
"axis":{"orient":"bottom","values":[1020,1040,1060,1080,1100,1120,1140,1160,1180,1200,1220,1240,1260,1280,1300,1320,1340,1360,1380,1400,1420,1440,1460,1480,1500,1520,1540,1560,1580,1600,1620,1640,1660],"labelExpr":"datum.value % 100 == 0 ? '' + datum.value : ''","labelFontSize":10,"labelPadding":11,"labelOverlap":false,"labelFlush":false,"title":"Rest-frame wavelength (Å)","titleFontSize":11,"titleFontWeight":"normal","titlePadding":3,"tickSize":{"condition":{"test":"datum.value % 100 == 0","value":-6},"value":-3}}}}},
{"data":{"name":"spec"},"mark":{"type":"line","clip":true},
"encoding":{"x":{"field":"w","type":"quantitative","scale":{"domain":[1012,1667],"nice":false,"zero":false},
"axis":{"orient":"top","values":[1020,1040,1060,1080,1100,1120,1140,1160,1180,1200,1220,1240,1260,1280,1300,1320,1340,1360,1380,1400,1420,1440,1460,1480,1500,1520,1540,1560,1580,1600,1620,1640,1660],"labels":false,"title":null,"tickSize":{"condition":{"test":"datum.value % 100 == 0","value":-6},"value":-3}}},
"y":{"field":"b","type":"quantitative","scale":{"domain":[-0.1,3.1],"nice":false,"zero":false},
"axis":{"orient":"right","values":[0,0.1,0.2,0.3,0.4,0.5,0.6,0.7,0.8,0.9,1.0,1.1,1.2,1.3,1.4,1.5,1.6,1.7,1.8,1.9,2.0,2.1,2.2,2.3,2.4,2.5,2.6,2.7,2.8,2.9,3.0],"labels":false,"title":null,"tickSize":{"condition":{"test":"round(datum.value*10) % 5 == 0","value":-6},"value":-3}}},
"color":{"field":"s","type":"nominal","scale":{"domain":["SW022550","SDSS QSO1","CDFS-202","CDFS-263","SW104409","SW104406"],"range":["#111111","#22dd22","#ff00ff","#00e8e8","#ff1010","#1010ff"]},"legend":null},
"strokeWidth":{"field":"s","type":"nominal","scale":{"domain":["SW022550","SDSS QSO1","CDFS-202","CDFS-263","SW104409","SW104406"],"range":[1.6,1,1,1,1,1]},"legend":null}}},
{"data":{"name":"lines"},"transform":[{"filter":"datum.r == 1"}],"mark":{"type":"text","align":"left","baseline":"middle","dx":2,"font":"Liberation Sans","fontSize":8,"color":"#000"},
"encoding":{"x":{"field":"w","type":"quantitative","scale":{"domain":[1012,1667],"nice":false,"zero":false},"axis":null},"y":{"datum":2.87,"type":"quantitative","scale":{"domain":[-0.1,3.1],"nice":false,"zero":false},"axis":null},"text":{"field":"t"}}},
{"data":{"name":"lines"},"transform":[{"filter":"datum.r == 2"}],"mark":{"type":"text","align":"left","baseline":"middle","dx":2,"font":"Liberation Sans","fontSize":8,"color":"#000"},
"encoding":{"x":{"field":"w","type":"quantitative","scale":{"domain":[1012,1667],"nice":false,"zero":false},"axis":null},"y":{"datum":2.62,"type":"quantitative","scale":{"domain":[-0.1,3.1],"nice":false,"zero":false},"axis":null},"text":{"field":"t"}}}
]}
],
"spacing":0,
"bounds":"flush"
}
